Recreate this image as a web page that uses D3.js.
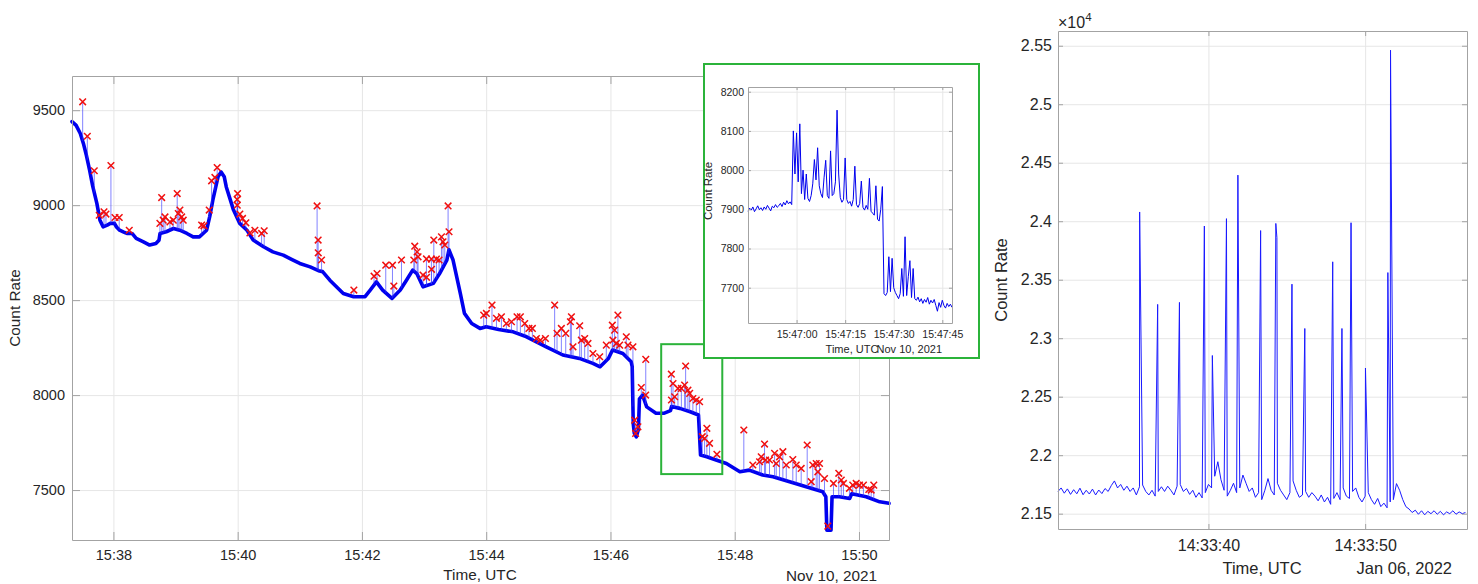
<!DOCTYPE html>
<html>
<head>
<meta charset="utf-8">
<script src="https://cdn.jsdelivr.net/npm/d3@7"></script>
<style>
  body { margin: 0; background: #fff; }
</style>
</head>
<body>
<svg id="chart" width="1478" height="584"></svg>
<script>
// ---------- data ----------
// Nov 10 2021, seconds after 15:37:00 UTC
const mainTimes = [20,24,28,31,34,37,40,44,47,50,54,57,61,63,66,70,73,78,82,89,95,101,104,105,111,118,124,131,137,143,150,153,156,161,164,167,169,176,182,189,195,205,214,224,232,240,250,258,262,269,282,292,303,308,314,320,329,337,343,349,353,359,369,375,382,384,388,395,399,406,414,420,432,446,459,478,494,510,523,530,538,542,552,560,561,562,563,565,567,568,571,575,584,592,598,599,607,617,625,627,633,642,652,665,674,687,697,713,729,745,748,749,753,754,761,771,773,787,800,809];
const mainCounts = [9440,9420,9377,9325,9260,9184,9100,9009,8921,8886,8895,8904,8904,8885,8868,8858,8851,8851,8825,8807,8790,8798,8815,8851,8860,8877,8868,8851,8833,8833,8868,8940,9026,9149,9175,9150,9096,8974,8904,8868,8816,8781,8754,8737,8715,8693,8675,8655,8650,8605,8535,8518,8518,8553,8596,8553,8509,8553,8605,8658,8640,8570,8588,8640,8711,8765,8711,8535,8430,8377,8351,8360,8345,8333,8307,8254,8211,8193,8167,8149,8193,8237,8219,8175,8150,7850,7800,7780,7820,7980,8000,7938,7904,7905,7918,7940,7930,7912,7895,7684,7675,7658,7640,7596,7605,7579,7570,7544,7517,7491,7465,7288,7288,7465,7465,7456,7480,7465,7438,7430];

// detected peaks (red x), seconds after 15:37:00
const peakTimes = [30.3,34.8,41.5,46.3,50.9,52.8,57.6,61.5,65.6,75.3,104.9,106.6,108.1,109.8,114.6,117.8,121.6,122.6,124.2,125.9,127.4,145.2,147.4,152.5,154.8,158,160.2,179.5,179.6,179.9,182.1,184.7,187.9,191.8,196.6,203.1,205.6,256.7,257.7,257.8,261,292.2,311.7,314.6,323,329.5,330.8,338.2,350.1,351,353.3,354.2,359,362.3,362.4,367.1,367.2,369.4,371.9,374.5,376.8,378.3,380,383.2,384.1,417.6,420.2,425.6,429.9,434.7,439.5,444.4,449.8,453,457.2,461.3,464.6,468.5,472.3,477.2,486.1,488.4,492.6,496.8,501.3,502.3,503.8,510.3,511.9,515.1,518.3,523.1,529.6,536,541.8,542.4,544,545.7,547.2,548.9,555.3,556.9,561.7,563.4,564.3,566.5,569.8,574,574.1,598.8,598.9,600.4,602,605.2,608.5,611.6,612.6,614.8,616.5,619.6,622.9,626.1,628.7,630.9,633.1,635.7,642.8,668.8,677.5,684,685.6,688.8,689.8,693.6,698.5,700.1,703.3,706.5,709.8,716.1,719.4,724.2,730,733.9,735.4,738.7,740.3,741.9,746.7,749.9,755.4,760.5,762.9,765,770.8,774,777.3,780.5,784.3,789.5,791.8,794.3];
const peakCounts = [9544,9363,9181,8947,8965,8953,9209,8935,8935,8868,8904,9040,8921,8938,8912,8921,9061,8956,8974,8938,8921,8895,8891,8974,9128,9146,9198,9030,9000,9061,8953,8930,8907,8854,8868,8851,8865,8996,8816,8749,8711,8553,8626,8640,8684,8684,8574,8711,8711,8784,8754,8728,8632,8717,8620,8716,8662,8816,8716,8711,8833,8807,8790,8996,8860,8421,8430,8474,8404,8412,8377,8386,8412,8412,8377,8351,8351,8298,8289,8298,8474,8325,8351,8325,8386,8412,8254,8365,8289,8298,8272,8219,8202,8263,8368,8289,8342,8272,8421,8263,8307,8263,8254,7868,7798,7833,8040,8000,8188,8110,7974,8061,7991,8035,8035,8053,8153,8026,8009,7982,7974,7965,7781,7772,7825,7746,7688,7816,7632,7649,7675,7742,7658,7658,7693,7640,7675,7702,7632,7661,7632,7614,7737,7544,7632,7640,7596,7640,7561,7310,7535,7588,7553,7535,7509,7526,7535,7526,7526,7503,7500,7526];

// zoomed window shown in the inset
const zoomTimes = [589, 648];
const zoomCounts = [7584, 8268];

// inset: samples every 0.5 s from 15:46:45
const insetStart = 45;   // seconds after 15:46:00
const insetStep = 0.5;
const insetCounts = [7895,7903,7898,7906,7894,7901,7909,7899,7904,7897,
  7906,7900,7910,7903,7896,7908,7904,7912,7905,7909,
  7915,7907,7918,7911,7922,7914,7919,7912,8100,7990,
  8095,7970,8118,7940,8000,7925,7990,7928,7920,7935,
  7965,8027,7975,8057,7960,7940,7930,7982,8025,7935,
  7928,8049,7935,7940,7970,8153,7990,7930,7918,7925,
  8031,7925,7915,7920,7908,7925,8010,7912,7905,7915,
  7972,7905,7898,7910,7900,7979,7895,7890,7885,7960,
  7875,7870,7900,7958,7685,7680,7688,7779,7690,7775,
  7700,7688,7680,7672,7685,7749,7678,7830,7680,7728,
  7769,7675,7749,7672,7668,7676,7664,7672,7660,7670,
  7663,7675,7658,7668,7661,7670,7655,7640,7662,7650,
  7668,7655,7648,7660,7652,7658,7650];

// Jan 06 2022: samples every 0.2 s, seconds after 14:33:30 UTC
const jan6Start = 0.4;
const jan6Step = 0.2;
const jan6Counts = [21690,21720,21675,21712,21665,21705,21670,21718,21662,21700,
  21668,21710,21660,21702,21672,21715,21690,21740,21780,21720,
  21750,21700,21735,21690,21720,21660,21730,21745,21690,21660,
  21700,21650,21690,21730,21690,21735,21700,21660,21735,21750,
  21690,21715,21665,21700,21640,21680,21635,21680,21750,21720,
  21820,21944,21790,21700,21650,21700,21760,21680,21720,21830,
  21760,21690,21720,21640,21680,21620,21700,21800,21700,21660,
  21760,21700,21660,21620,21680,21780,21700,21640,21660,21690,
  21640,21680,21650,21610,21660,21600,21640,21580,21630,21680,
  21620,21720,21650,21630,21690,21720,21640,21600,21650,21680,
  21620,21580,21630,21560,21590,21550,21600,21620,21757,21700,
  21620,21560,21540,21510,21530,21495,21525,21490,21520,21500,
  21525,21495,21520,21490,21515,21500,21525,21495,21515,21500,21510];
const jan6SpikeTimes = [5.61,6.76,8.15,9.74,10.25,11.15,11.88,13.33,14.3,14.37,15.33,16.15,17.93,18.52,19.1,20.02,21.45,21.62];
const jan6SpikeCounts = [24079,23289,23306,23959,22852,24022,24394,23920,23981,23860,23462,23083,23653,23083,23987,22745,23561,25462];

// ticks
const mainTimeTicks = ["15:38","15:40","15:42","15:44","15:46","15:48","15:50"];
const mainCountTicks = [7500,8000,8500,9000,9500];
const insetTimeTicks = ["15:47:00","15:47:15","15:47:30","15:47:45"];
const insetCountTicks = [7700,7800,7900,8000,8100,8200];
const jan6TimeTicks = ["14:33:40","14:33:50"];
const jan6CountTicks = [21500,22000,22500,23000,23500,24000,24500,25000,25500];

// ---------- setup ----------
const FONT = "'Liberation Sans', Arial, Helvetica, sans-serif";
const BLUE = "#0000ee", GRID = "#e6e6e6", AXIS = "#a3a3a3", TXT = "#262626", GREEN = "#2bb33a";
const svg = d3.select("#chart").attr("font-family", FONT);

const nov10 = Date.UTC(2021, 10, 10, 15, 37, 0);
const nov10b = Date.UTC(2021, 10, 10, 15, 46, 0);
const jan06 = Date.UTC(2022, 0, 6, 14, 33, 30);
const at = (base, s) => new Date(base + s * 1000);
function clock(base, str) {
  const [h, m, s = 0] = str.split(":").map(Number);
  const d = new Date(base);
  d.setUTCHours(h, m, s, 0);
  return d;
}

function drawGrid(g, x, y, xt, yt) {
  const [x0, x1] = x.range(), [yb, yt0] = y.range();
  g.append("g").attr("transform", `translate(0,${yb})`)
    .call(d3.axisBottom(x).tickValues(xt).tickSize(-(yb - yt0)).tickFormat(""))
    .call(a => { a.select(".domain").remove(); a.selectAll("line").attr("stroke", GRID); });
  g.append("g").attr("transform", `translate(${x0},0)`)
    .call(d3.axisLeft(y).tickValues(yt).tickSize(-(x1 - x0)).tickFormat(""))
    .call(a => { a.select(".domain").remove(); a.selectAll("line").attr("stroke", GRID); });
}

function drawBox(g, x, y, o) {
  const [x0, x1] = x.range(), [yb, yt0] = y.range();
  const style = a => {
    a.attr("font-family", FONT).attr("font-size", o.font);
    a.select(".domain").attr("stroke", AXIS);
    a.selectAll(".tick line").attr("stroke", AXIS);
    a.selectAll(".tick text").attr("fill", TXT);
  };
  g.append("g").attr("transform", `translate(0,${yb})`)
    .call(d3.axisBottom(x).tickValues(o.xt).tickSizeInner(-o.tick).tickSizeOuter(0)
      .tickPadding(o.padX).tickFormat(o.xf)).call(style);
  g.append("g").attr("transform", `translate(0,${yt0})`)
    .call(d3.axisTop(x).tickValues(o.xt).tickSizeInner(-o.tick).tickSizeOuter(0).tickFormat("")).call(style);
  g.append("g").attr("transform", `translate(${x0},0)`)
    .call(d3.axisLeft(y).tickValues(o.yt).tickSizeInner(-o.tick).tickSizeOuter(0)
      .tickPadding(o.padY).tickFormat(o.yf)).call(style);
  g.append("g").attr("transform", `translate(${x1},0)`)
    .call(d3.axisRight(y).tickValues(o.yt).tickSizeInner(-o.tick).tickSizeOuter(0).tickFormat("")).call(style);
}

function label(txt, x, y, size, anchor, rot) {
  const t = svg.append("text").attr("x", x).attr("y", y).attr("font-size", size)
    .attr("fill", TXT).attr("text-anchor", anchor || "middle").text(txt);
  if (rot) t.attr("transform", `rotate(-90,${x},${y})`);
  return t;
}

// ---------- main chart ----------
const mainData = mainTimes.map((t, i) => ({ t: t, v: mainCounts[i] }));
const peaks = peakTimes.map((t, i) => ({ t: t, v: peakCounts[i] }));

const x = d3.scaleUtc().domain([at(nov10, 20), at(nov10, 809)]).range([72, 889]);
const y = d3.scaleLinear().domain([7237, 9680]).range([540, 76]);
const mainXT = mainTimeTicks.map(s => clock(nov10, s));

const gMain = svg.append("g");
drawGrid(gMain, x, y, mainXT, mainCountTicks);

gMain.append("path").datum(mainData)
  .attr("fill", "none").attr("stroke", BLUE).attr("stroke-width", 3.6)
  .attr("stroke-linejoin", "round").attr("stroke-linecap", "round")
  .attr("d", d3.line().x(d => x(at(nov10, d.t))).y(d => y(d.v)));

// stems from the curve up to each peak
const bis = d3.bisector(d => d.t).left;
function footAt(t) {
  const i = Math.max(1, Math.min(mainData.length - 1, bis(mainData, t)));
  const a = mainData[i - 1], b = mainData[i];
  return a.v + (b.v - a.v) * (t - a.t) / (b.t - a.t);
}
gMain.selectAll(".stem").data(peaks).join("line")
  .attr("class", "stem")
  .attr("x1", d => x(at(nov10, d.t))).attr("x2", d => x(at(nov10, d.t)))
  .attr("y1", d => y(footAt(d.t))).attr("y2", d => y(d.v))
  .attr("stroke", "#3030ff").attr("stroke-opacity", 0.6).attr("stroke-width", 1);

gMain.selectAll(".pk").data(peaks).join("path")
  .attr("class", "pk")
  .attr("transform", d => `translate(${x(at(nov10, d.t))},${y(d.v)})`)
  .attr("d", "M-3.3,-3.3L3.3,3.3M-3.3,3.3L3.3,-3.3")
  .attr("stroke", "#f01010").attr("stroke-width", 1.5).attr("fill", "none");

drawBox(gMain, x, y, {
  xt: mainXT, yt: mainCountTicks, xf: d3.utcFormat("%H:%M"), yf: d3.format("d"),
  font: 14.5, tick: 8, padX: 10, padY: 7
});

// green box marking the zoomed window
svg.append("rect")
  .attr("x", x(at(nov10, zoomTimes[0]))).attr("y", y(zoomCounts[1]))
  .attr("width", x(at(nov10, zoomTimes[1])) - x(at(nov10, zoomTimes[0])))
  .attr("height", y(zoomCounts[0]) - y(zoomCounts[1]))
  .attr("fill", "none").attr("stroke", GREEN).attr("stroke-width", 2);

label("Count Rate", 20, 308, 15.3, "middle", true);
label("Time, UTC", 480, 580, 15.3);
label("Nov 10, 2021", 877, 581, 15.3, "end");

// ---------- inset ----------
svg.append("rect").attr("x", 704).attr("y", 64).attr("width", 275).attr("height", 294)
  .attr("fill", "#fff").attr("stroke", GREEN).attr("stroke-width", 2);

const insetData = insetCounts.map((v, i) => ({ t: insetStart + i * insetStep, v: v }));
const xi = d3.scaleUtc().domain([at(nov10b, 45), at(nov10b, 108)]).range([748, 952]);
const yi = d3.scaleLinear().domain([7610, 8212]).range([323, 87]);
const insetXT = insetTimeTicks.map(s => clock(nov10b, s));

const gIn = svg.append("g");
drawGrid(gIn, xi, yi, insetXT, insetCountTicks);
gIn.append("path").datum(insetData)
  .attr("fill", "none").attr("stroke", BLUE).attr("stroke-width", 1)
  .attr("d", d3.line().x(d => xi(at(nov10b, d.t))).y(d => yi(d.v)));
drawBox(gIn, xi, yi, {
  xt: insetXT, yt: insetCountTicks, xf: d3.utcFormat("%H:%M:%S"), yf: d3.format("d"),
  font: 10.5, tick: 3, padX: 8, padY: 4
});
label("Count Rate", 712, 191, 11.5, "middle", true);
label("Time, UTC", 852, 353, 11);
label("Nov 10, 2021", 942, 353, 11, "end");

// ---------- right chart ----------
const jan6Data = jan6Counts.map((v, i) => ({ t: jan6Start + i * jan6Step, v: v }))
  .concat(jan6SpikeTimes.map((t, i) => ({ t: t, v: jan6SpikeCounts[i] })))
  .sort((a, b) => a.t - b.t);

const xr = d3.scaleUtc().domain([at(jan06, 0.4), at(jan06, 26.5)]).range([1058, 1467]);
const yr = d3.scaleLinear().domain([21369, 25626]).range([529, 31]);
const jan6XT = jan6TimeTicks.map(s => clock(jan06, s));

const gR = svg.append("g");
drawGrid(gR, xr, yr, jan6XT, jan6CountTicks);
gR.append("path").datum(jan6Data)
  .attr("fill", "none").attr("stroke", "#1a1aff").attr("stroke-width", 1)
  .attr("d", d3.line().x(d => xr(at(jan06, d.t))).y(d => yr(d.v)));
drawBox(gR, xr, yr, {
  xt: jan6XT, yt: jan6CountTicks, xf: d3.utcFormat("%H:%M:%S"), yf: d => String(+(d / 1e4).toFixed(3)),
  font: 16, tick: 5, padX: 11, padY: 6
});

const ex = svg.append("text").attr("x", 1058).attr("y", 28).attr("font-size", 16).attr("fill", TXT);
ex.append("tspan").text("\u00d710");
ex.append("tspan").attr("font-size", 11.5).attr("dy", -7).text("4");

label("Count Rate", 1007, 280, 16.5, "middle", true);
label("Time, UTC", 1262, 574, 16.5);
label("Jan 06, 2022", 1452, 574, 16.5, "end");
</script>
</body>
</html>
